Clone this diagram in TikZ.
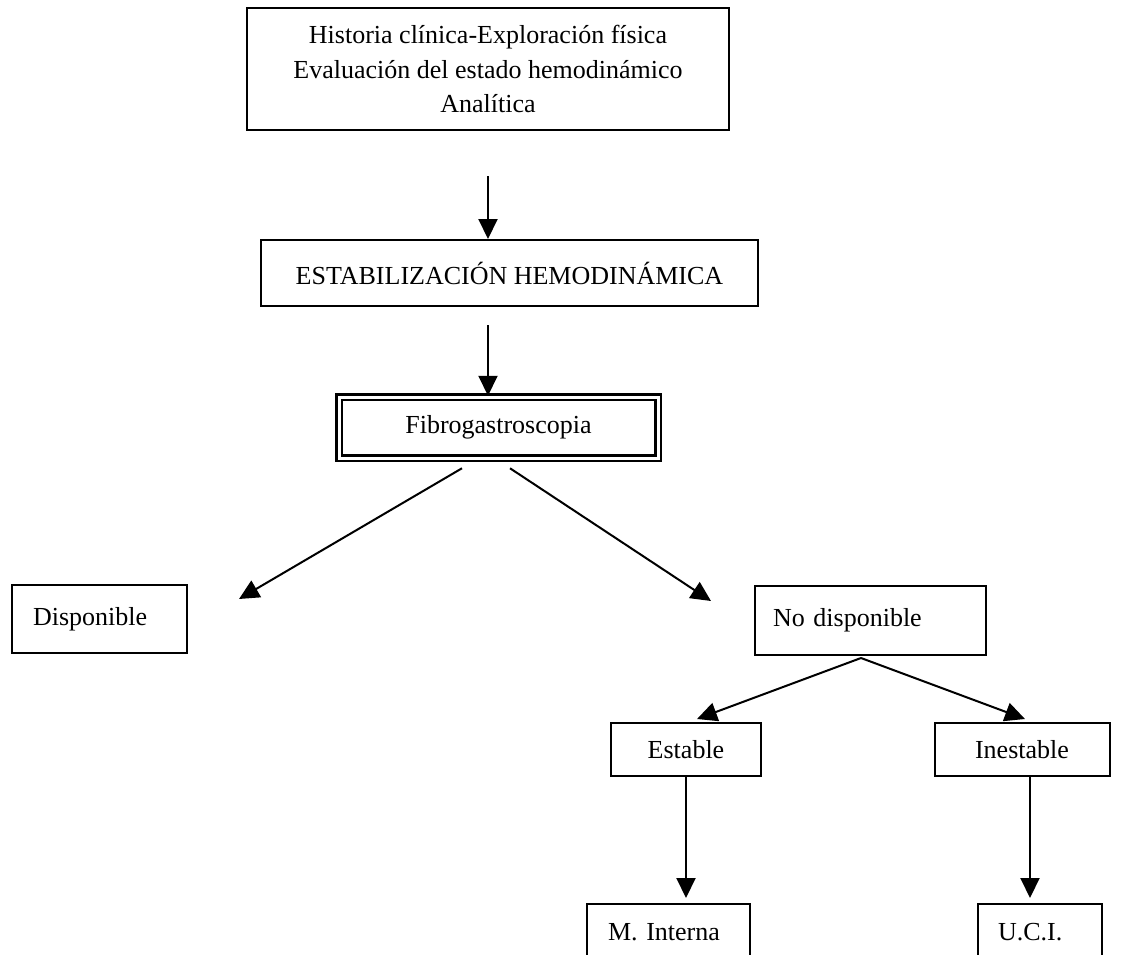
\documentclass[tikz,border=0pt]{standalone}
\usepackage{fontspec}
\setmainfont{Liberation Serif}
\usetikzlibrary{arrows.meta}
\tikzset{
  box/.style={draw, line width=2pt, inner sep=0pt, font=\fontsize{26}{34.5}\selectfont},
  leftbox/.style={box, align=left},
  dbox/.style={draw, double, line width=2.5pt, double distance=3pt, inner sep=0pt, font=\fontsize{26}{30}\selectfont},
  arr/.style={line width=2pt, -{Triangle[length=20pt,width=19pt]}},
}
\begin{document}
\begin{tikzpicture}[x=1pt, y=-1pt]
\useasboundingbox (0,0) rectangle (1144,954);
\clip (0,0) rectangle (1144,954);
\fill[white] (0,0) rectangle (1144,954);

\node[box, minimum width=482pt, minimum height=122pt, align=center] (top) at (488,69)
  {Historia clínica-Exploración física\\Evaluación del estado hemodinámico\\Analítica};
\node[box, minimum width=497pt, minimum height=66pt] (stab) at (509.5,273) {ESTABILIZACIÓN HEMODINÁMICA};
\node[dbox, minimum width=319pt, minimum height=61pt] (fibro) at (498.5,427.5) {Fibrogastroscopia};

\node[leftbox, inner xsep=21pt, text width=133pt, minimum height=68pt] (disp) at (99.5,619) {Disponible};
\node[leftbox, inner xsep=18pt, text width=195pt, minimum height=69pt] (nodisp) at (870.5,620.5) {No disponible};

\node[box, minimum width=150pt, minimum height=53pt] (estable) at (686,749.5) {Estable};
\node[box, minimum width=175pt, minimum height=53pt] (inestable) at (1022,749.5) {Inestable};

\node[leftbox, anchor=north west, inner xsep=21pt, text width=121pt, minimum height=56pt] (mint) at (586,903) {M. Interna};
\node[leftbox, anchor=north west, inner xsep=20pt, text width=84pt, minimum height=56pt] (uci) at (977,903) {U.C.I.};

\draw[arr] ([yshift=-45pt]top.south) -- (top.south |- stab.north);
\draw[arr] ([yshift=-18pt]top.south |- stab.south) -- (top.south |- fibro.north);

\draw[arr] ([xshift=-36.5pt,yshift=-9pt]fibro.south) -- ([xshift=51pt,yshift=-15pt]disp.north east);
\draw[arr] ([xshift=11.5pt,yshift=-9pt]fibro.south) -- ([xshift=-43pt,yshift=-16pt]nodisp.north west);

\draw[arr] ([xshift=-9.5pt,yshift=-2pt]nodisp.south) -- ([xshift=11pt,yshift=3pt]estable.north);
\draw[arr] ([xshift=-9.5pt,yshift=-2pt]nodisp.south) -- ([xshift=3pt,yshift=3pt]inestable.north);

\draw[arr] (estable.south) -- ([yshift=5pt]estable.south |- mint.north);
\draw[arr] ([xshift=8pt]inestable.south) -- ([xshift=8pt,yshift=5pt]inestable.south |- uci.north);
\end{tikzpicture}
\end{document}
